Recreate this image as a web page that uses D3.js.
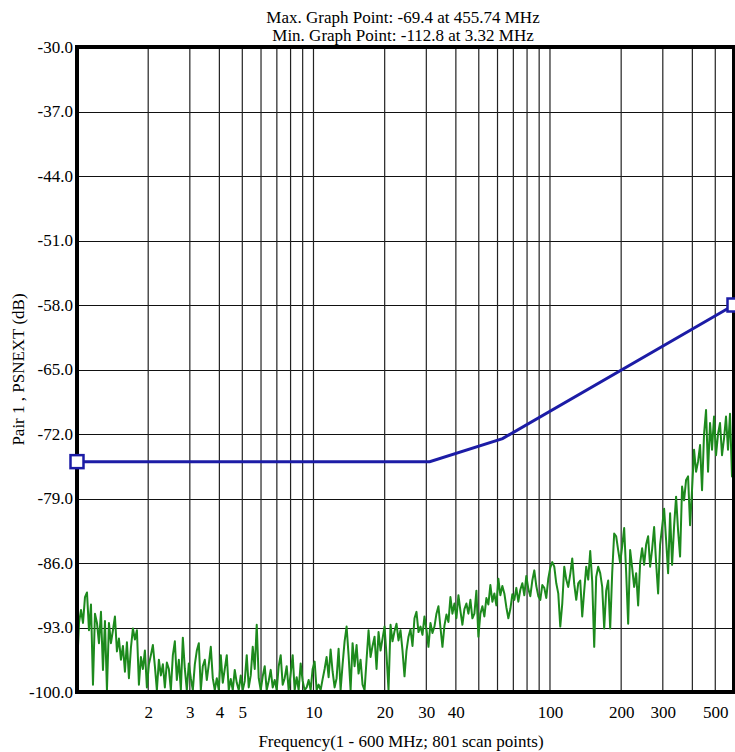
<!DOCTYPE html>
<html><head><meta charset="utf-8">
<script src="https://cdn.jsdelivr.net/npm/d3@7"></script>
<style>body{margin:0;background:#fff}svg text{font-family:"Liberation Serif","Times New Roman",serif;fill:#000}</style>
</head><body><svg id="c" width="735" height="752"></svg>
<script>
const titleLines = ["Max. Graph Point: -69.4 at 455.74 MHz", "Min. Graph Point: -112.8 at 3.32 MHz"];
const xTitle = "Frequency(1 - 600 MHz; 801 scan points)";
const yTitle = "Pair 1 , PSNEXT (dB)";
const yTicks = [-30, -37, -44, -51, -58, -65, -72, -79, -86, -93, -100];
const xGrid = [2,3,4,5,6,7,8,9,10,20,30,40,50,60,70,80,90,100,200,300,400,500];
const xTickLabels = [2,3,4,5,10,20,30,40,100,200,300,500];
const limitFreq = [1, 31, 63, 600];
const limitDb = [-75, -75, -72.5, -58];
const noiseDb = [
-97.5,-92.5,-91.1,-92.5,-89.7,-89.2,-93.3,-90.5,-99.2,-91.5,
-92.5,-94.7,-91.3,-97.6,-92.3,-99.8,-92.5,-94.7,-93.3,-91.8,
-95.6,-94.2,-96.5,-95,-97.8,-94.6,-98.5,-95.2,-93.1,-94.3,
-93.3,-99.2,-96.2,-97.5,-95.5,-99.5,-97,-96,-94.9,-97.2,
-99.8,-96.5,-98.2,-97,-99.5,-96.8,-97.5,-99.8,-96,-94.5,
-98.7,-96.5,-99.8,-94.1,-97.5,-99.8,-96.9,-98.5,-99.8,-97,
-95.5,-94.7,-99.8,-97.2,-96.5,-98.7,-97,-95.1,-98.5,-99.8,
-98.5,-99.8,-96,-99,-97.5,-96,-99.8,-98.6,-99.8,-97.6,
-99,-99.8,-98.2,-99.8,-98.8,-96,-99.5,-98.2,-95.1,-97.5,
-92.7,-98.5,-99.8,-98.3,-97.2,-99.8,-98.8,-97.6,-99.5,-98.7,
-99.8,-97.2,-96,-99.2,-98.5,-97.2,-99.8,-98,-96,-99.8,
-98.4,-99.8,-96.9,-98.8,-99.8,-99.5,-98.7,-99.8,-97.5,-96.7,
-99.8,-99.2,-99.8,-98.6,-97.5,-96.2,-98.4,-95.4,-97.8,-99.5,
-98.5,-95.3,-99.8,-97,-94.5,-92.9,-96,-99.8,-94.7,-97.2,
-94.9,-98,-96.5,-99.2,-99.8,-96.5,-93.3,-96.2,-95,-94,
-97.5,-93.5,-95.5,-94.2,-92.9,-96,-99.8,-92.7,-94.5,-93.4,
-92.6,-94.4,-93.3,-95.5,-98.3,-95.5,-94,-93.2,-95,-92,
-91.3,-93.5,-92.9,-93.8,-91.8,-93.2,-95.1,-92.5,-93.6,-92.9,
-91.5,-90.7,-93,-95.1,-92.8,-91.6,-92.4,-89.7,-91.5,-90.4,
-92,-89.5,-91.2,-92.7,-91,-90.4,-91.5,-90,-92,-91.5,
-89,-94,-91.5,-90.7,-91.8,-89.8,-90.5,-88.4,-90.2,-89.3,
-90.6,-87.7,-89.5,-88.5,-89.3,-90.8,-92,-91,-89.4,-90,
-88.7,-90.2,-88.9,-88.2,-89.5,-87.4,-88.8,-89.6,-87.9,-86.8,
-88.5,-89.6,-90,-88.4,-88.7,-89.8,-87.7,-86.5,-85.9,-86.4,
-88.2,-89.3,-92.9,-90.4,-86.4,-87.8,-88.6,-87.2,-85.5,-88.3,
-90,-88.2,-87.9,-91.8,-89,-86.4,-87.8,-84.7,-88,-95.1,
-87.5,-86.4,-87.1,-88.6,-93.1,-89,-87.9,-93.1,-87.1,-82.8,
-83.1,-84.6,-86,-84.2,-82.2,-87,-92.6,-84.6,-86.5,-88.6,
-87.1,-90.6,-86,-84.4,-86.2,-84,-83.1,-86.4,-84.5,-82.1,
-86,-89.3,-84,-82.1,-80.1,-83.5,-87.1,-80.6,-86.2,-82,
-78.8,-82.5,-85.3,-77.7,-79.2,-77,-76.6,-81.9,-78,-73.7,
-76.1,-75,-73.2,-78.1,-72,-69.4,-76.1,-70.8,-73.7,-70.1,
-74.3,-72,-70.8,-74.3,-72.5,-70.1,-73.7,-69.8,-76.6,-75
];
const fMin = 1, fMax = 600;
const noiseFreq = d3.range(noiseDb.length).map(i => fMin * Math.pow(fMax / fMin, i / (noiseDb.length - 1)));

const L = 77, R = 734, T = 47, B = 692;
const svg = d3.select("#c");
const x = d3.scaleLog().domain([fMin, fMax]).range([L, R]);
const y = d3.scaleLinear().domain([-100, -30]).range([B, T]);

svg.append("rect").attr("width", 735).attr("height", 752).attr("fill", "#fff");

const grid = svg.append("g");
grid.selectAll("line.h").data(yTicks).join("line")
  .attr("x1", L).attr("x2", R)
  .attr("y1", d => Math.round(y(d)) + 0.5).attr("y2", d => Math.round(y(d)) + 0.5)
  .attr("stroke", "#111").attr("stroke-width", 1.2);
grid.selectAll("line.v").data(xGrid).join("line")
  .attr("x1", d => x(d)).attr("x2", d => x(d))
  .attr("y1", T).attr("y2", B)
  .attr("stroke", "#222").attr("stroke-width", 1.2);

svg.append("defs").append("clipPath").attr("id", "pc")
  .append("rect").attr("x", L).attr("y", T).attr("width", R - L).attr("height", B - T);

svg.append("path")
  .datum(noiseDb.map((v, i) => [noiseFreq[i], v]))
  .attr("clip-path", "url(#pc)")
  .attr("fill", "none").attr("stroke", "#1d8a1d").attr("stroke-width", 2)
  .attr("stroke-linejoin", "round")
  .attr("d", d3.line().x(d => x(d[0])).y(d => y(d[1])));

const limit = limitFreq.map((f, i) => [f, limitDb[i]]);
svg.append("path").datum(limit)
  .attr("fill", "none").attr("stroke", "#1c1ca6").attr("stroke-width", 3)
  .attr("d", d3.line().x(d => x(d[0])).y(d => y(d[1])));

svg.append("rect").attr("x", L).attr("y", T).attr("width", R - L).attr("height", B - T)
  .attr("fill", "none").attr("stroke", "#000").attr("stroke-width", 4);

svg.selectAll("rect.mk").data([limit[0], limit[limit.length - 1]]).join("rect")
  .attr("x", d => x(d[0]) - 6.5).attr("y", d => y(d[1]) - 6.5)
  .attr("width", 13).attr("height", 13)
  .attr("fill", "#fff").attr("stroke", "#1c1ca6").attr("stroke-width", 2.5);

const yAxis = svg.append("g").attr("transform", `translate(${L - 2},0)`)
  .call(d3.axisLeft(y).tickValues(yTicks).tickSize(0).tickPadding(2).tickFormat(d => d.toFixed(1)));
yAxis.select(".domain").remove();
yAxis.selectAll("text").attr("font-size", 17).style("font-family", '"Liberation Serif", serif');

const xAxis = svg.append("g").attr("transform", `translate(0,${B})`)
  .call(d3.axisBottom(x).tickValues(xTickLabels).tickSize(0).tickPadding(14).tickFormat(d => String(d)));
xAxis.select(".domain").remove();
xAxis.selectAll("text").attr("font-size", 17).style("font-family", '"Liberation Serif", serif');

svg.selectAll("text.title").data(titleLines).join("text")
  .attr("x", 403).attr("y", (d, i) => 23 + i * 18)
  .attr("text-anchor", "middle").attr("font-size", 17).text(d => d);

svg.append("text").attr("x", 401).attr("y", 747).attr("text-anchor", "middle")
  .attr("font-size", 17).text(xTitle);

svg.append("text").attr("transform", `translate(24,${(T + B) / 2}) rotate(-90)`)
  .attr("text-anchor", "middle").attr("font-size", 17).text(yTitle);
</script></body></html>
